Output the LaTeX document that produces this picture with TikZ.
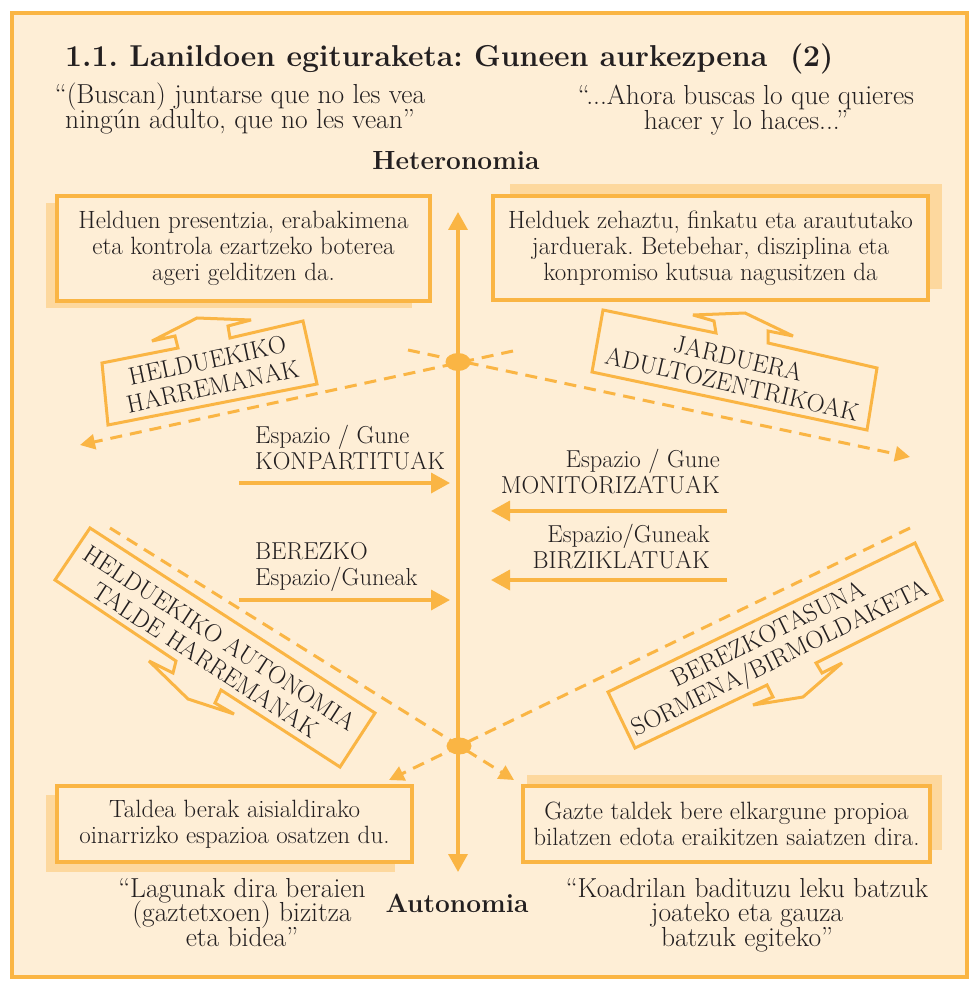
\documentclass[tikz,border=0pt]{standalone}
\usepackage{fontspec}
\usetikzlibrary{arrows.meta}
\definecolor{egorange}{RGB}{250,181,68}
\definecolor{egcream}{RGB}{254,238,214}
\definecolor{egshadow}{RGB}{253,216,158}
\definecolor{egtext}{RGB}{35,31,32}
\newcommand{\egquotefont}{\fontsize{27.5}{24.5}\selectfont\lineskiplimit=-20pt\relax}
\frenchspacing

\begin{document}
\begin{tikzpicture}[x=1pt,y=-1pt,
    infobox/.style={draw=egorange,line width=3.5pt,fill=egcream,inner sep=0pt,
        align=center,text=egtext,font=\fontsize{25}{26}\selectfont},
    calloutline/.style={draw=egorange,line width=3pt,fill=egcream,miter limit=4},
    callouttext/.style={inner sep=0pt,align=center,text=egtext,
        font=\fontsize{25}{26.5}\selectfont},
    quotetext/.style={inner sep=0pt,align=center,text=egtext,font=\egquotefont},
    spacetext/.style={inner sep=0pt,text=egtext,font=\fontsize{24.5}{26}\selectfont},
    poletext/.style={inner sep=0pt,text=egtext,font=\fontsize{26.3}{28}\selectfont\bfseries},
    dashline/.style={draw=egorange,line width=3pt,dash pattern=on 12pt off 8pt,
        -{Triangle[length=15pt,width=15pt]}},
    spacearrow/.style={draw=egorange,line width=3.5pt,
        -{Triangle[length=19pt,width=20pt]}},
    poleaxis/.style={draw=egorange,line width=3.5pt,
        {Triangle[length=18pt,width=19pt]}-{Triangle[length=18pt,width=19pt]}}
]
\useasboundingbox (0,0) rectangle (972,981);

% Page frame
\draw[egorange,line width=3.5pt,fill=egcream] (12,13) rectangle (967,977);

% Title and quotations
\node[anchor=base west,inner sep=0pt,text=egtext,
    font=\fontsize{30.2}{32}\selectfont\bfseries] (titulua) at (65,67)
    {1.1. Lanildoen egituraketa: Guneen aurkezpena\ \ (2)};
\node[quotetext,anchor=north] (aipuA) at (240,83)
    {“(Buscan) juntarse que no les vea\\ningún adulto, que no les vean”};
\node[quotetext,anchor=north] (aipuB) at (746,85)
    {“...Ahora buscas lo que quieres\\hacer y lo haces...”};
\node[quotetext,anchor=north] (aipuC) at (242,878)
    {“Lagunak dira beraien\\(gaztetxoen) bizitza\\eta bidea”};
\node[quotetext,anchor=north] (aipuD) at (747,878)
    {“Koadrilan badituzu leku batzuk\\joateko eta gauza\\batzuk egiteko”};

% Box shadows
\fill[egshadow] (46,203) rectangle (412,308);
\fill[egshadow] (510,184) rectangle (942,289);
\fill[egshadow] (46,795) rectangle (395,872);
\fill[egshadow] (527,775) rectangle (942,850);

% Description boxes
\node[infobox,minimum width=373pt,minimum height=105pt] (presentzia) at (243.5,248.5)
    {Helduen presentzia, erabakimena\\eta kontrola ezartzeko boterea\\ageri gelditzen da.};
\node[infobox,minimum width=435pt,minimum height=104pt] (jarduerak) at (710.5,248)
    {Helduek zehaztu, finkatu eta araututako\\jarduerak. Betebehar, disziplina eta\\konpromiso kutsua nagusitzen da};
\node[infobox,minimum width=355pt,minimum height=76pt] (taldea) at (234.5,824)
    {Taldea berak aisialdirako\\oinarrizko espazioa osatzen du.};
\node[infobox,minimum width=407pt,minimum height=76pt] (elkargune) at (726.5,824)
    {Gazte taldek bere elkargune propioa\\bilatzen edota eraikitzen saiatzen dira.};

% Dashed diagonals
\coordinate (adultS) at (408,350);
\coordinate (adultE) at (910,457);
\coordinate (sharedS) at (513,351);
\coordinate (sharedE) at (80,445);
\coordinate (groupS) at (110,528);
\coordinate (groupE) at (514,780);
\coordinate (ownS) at (910,528);
\coordinate (ownE) at (389,780);
\draw[dashline] (adultS) -- (adultE);
\draw[dashline] (sharedS) -- (sharedE);
\draw[dashline] (groupS) -- (groupE);
\draw[dashline] (ownS) -- (ownE);

% Heteronomia - Autonomia axis
\coordinate (axTop) at (458,212);
\coordinate (axBot) at (458,872);
\draw[poleaxis] (axTop) -- (axBot);
\fill[egorange] (458,362) ellipse [x radius=12.5pt,y radius=9pt];
\fill[egorange] (459,746) ellipse [x radius=12.5pt,y radius=8.5pt];
\node[poletext,anchor=base] (heteronomia) at (456,170) {Heteronomia};
\node[poletext,anchor=base] (autonomia) at (457,912) {Autonomia};

% Space arrows
\coordinate (konpS) at (239,483);
\coordinate (konpE) at (450,483);
\coordinate (monS) at (727,511);
\coordinate (monE) at (491,511);
\coordinate (birS) at (727,580);
\coordinate (birE) at (491,580);
\coordinate (berS) at (239,600);
\coordinate (berE) at (450,600);
\draw[spacearrow] (konpS) -- (konpE);
\draw[spacearrow] (monS) -- (monE);
\draw[spacearrow] (birS) -- (birE);
\draw[spacearrow] (berS) -- (berE);
\node[spacetext,align=left,anchor=north west] (konpartituak) at (255,425)
    {Espazio / Gune\\KONPARTITUAK};
\node[spacetext,align=right,anchor=north east] (monitorizatuak) at (720,449)
    {Espazio / Gune\\MONITORIZATUAK};
\node[spacetext,align=right,anchor=north east] (birziklatuak) at (710,524)
    {Espazio/Guneak\\BIRZIKLATUAK};
\node[spacetext,align=left,anchor=north west] (berezko) at (255,542)
    {BEREZKO\\Espazio/Guneak};

% Tilted callouts with block arrows
\draw[calloutline] (102,363) -- (178,348) -- (175,336) -- (152,341) -- (197,318)
    -- (251,320) -- (228,326) -- (230,338) -- (303,321) -- (317,384) -- (108,425) -- cycle;
\node[callouttext,rotate=12] (harremanak) at (210,373.5) {HELDUEKIKO\\HARREMANAK};

\draw[calloutline] (603,310) -- (716,333) -- (714,321) -- (693,315) -- (745,313)
    -- (793,336) -- (768,331) -- (768,343) -- (877,368) -- (867,430) -- (592,372) -- cycle;
\node[callouttext,rotate=-13] (adultozentrikoak) at (735,371) {JARDUERA\\ADULTOZENTRIKOAK};

\draw[calloutline] (90,528) -- (375,713) -- (340,767) -- (221,690) -- (215,703)
    -- (234,714) -- (188,699) -- (149,661) -- (173,673) -- (176,661) -- (55,580) -- cycle;
\node[callouttext,rotate=-33] (autonomiaT) at (213,649) {HELDUEKIKO AUTONOMIA\\TALDE HARREMANAK};

\draw[calloutline] (608,692) -- (915,543) -- (942,600) -- (816,663) -- (822,673)
    -- (842,663) -- (803,697) -- (753,705) -- (773,697) -- (767,685) -- (635,748) -- cycle;
\node[callouttext,rotate=26] (birmoldaketa) at (775,648) {BEREZKOTASUNA\\SORMENA/BIRMOLDAKETA};

\end{tikzpicture}
\end{document}
